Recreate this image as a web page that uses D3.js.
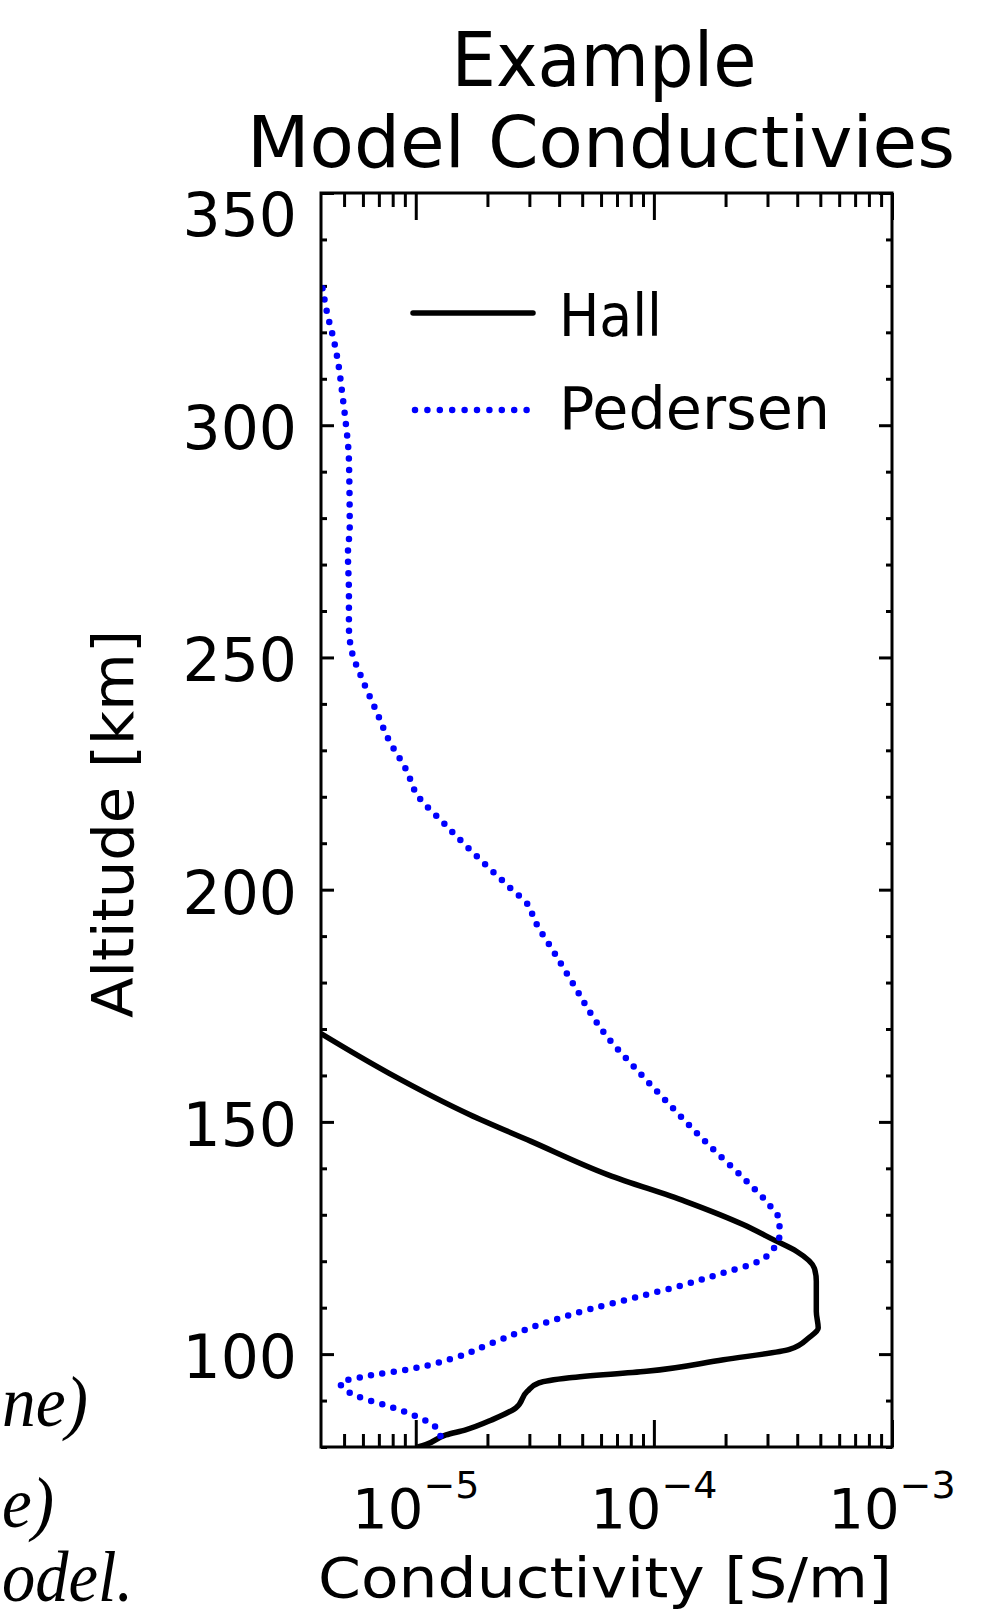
<!DOCTYPE html>
<meta charset="utf-8">
<title>Example Model Conductivies</title>
<style>
body {
  margin: 0;
  background: #fff;
}
svg text {
  font-family: "DejaVu Sans", sans-serif;
  fill: #000;
}
.note {
  font-family: "Liberation Serif", serif;
  font-style: italic;
}
</style>
<svg width="995" height="1620"></svg>
<script src="https://d3js.org/d3.v7.min.js"></script>
<script>

// Hall conductivity profile (altitude km, conductivity S/m)
var hallAltitude = [169, 160.5, 151.6, 145.8, 138.6, 132.9, 127.9, 124.6, 122.1, 118.5, 115.7, 109.2, 105.6, 103.5, 101, 98.8, 96.3, 94.9, 93.8, 92, 88.4, 85.9, 83.7, 82.6, 80.5, 80];
var hallConductivity = [4.0e-6, 7.7e-6, 1.68e-5, 3.05e-5, 6.43e-5, 1.355e-4, 2.37e-4, 3.19e-4, 3.98e-4, 4.72e-4, 4.81e-4, 4.81e-4, 4.9e-4, 4.47e-4, 3.71e-4, 1.96e-4, 9.3e-5, 4.42e-5, 3.29e-5, 2.94e-5, 2.63e-5, 2.10e-5, 1.62e-5, 1.34e-5, 1.1e-5, 1.02e-5];

// Pedersen conductivity profile
var pedersenAltitude = [329.5, 324, 318.3, 312.6, 306.9, 301, 292.5, 278, 272.4, 263.8, 256.6, 250.9, 246.2, 238, 232.9, 225.4, 220.4, 214.3, 206.4, 200.3, 196.5, 193.8, 186.6, 179.5, 172.3, 168.3, 161.6, 153.7, 145.1, 137.2, 132.9, 128.6, 125.7, 122.8, 119.6, 117.5, 115, 112.4, 109.6, 106.3, 102.4, 99.2, 97, 95.2, 93.8, 90.9, 88.8, 87, 85.5, 82.6, 80];
var pedersenConductivity = [4.06e-6, 4.25e-6, 4.53e-6, 4.75e-6, 4.91e-6, 5.07e-6, 5.24e-6, 5.28e-6, 5.19e-6, 5.24e-6, 5.24e-6, 5.41e-6, 5.86e-6, 6.89e-6, 7.59e-6, 9.2e-6, 1.014e-5, 1.312e-5, 1.871e-5, 2.50e-5, 2.985e-5, 3.13e-5, 3.80e-5, 4.61e-5, 5.60e-5, 6.37e-5, 8.34e-5, 1.164e-4, 1.694e-4, 2.455e-4, 2.96e-4, 3.37e-4, 3.37e-4, 3.19e-4, 2.65e-4, 1.96e-4, 1.355e-4, 8.67e-5, 5.33e-5, 3.29e-5, 2.10e-5, 1.45e-5, 9.98e-6, 6.14e-6, 4.82e-6, 5.70e-6, 7.69e-6, 9.62e-6, 1.117e-5, 1.27e-5, 1.23e-5];

var altitudeTicks = [100, 150, 200, 250, 300, 350];
var altitudeMinorTicks = [80, 90, 110, 120, 130, 140, 160, 170, 180, 190, 210, 220, 230, 240, 260, 270, 280, 290, 310, 320, 330, 340];
var conductivityTicks = [1e-5, 1e-4, 1e-3];
var conductivityExponents = ["\u22125", "\u22124", "\u22123"];
var conductivityMinorTicks = [5e-6, 6e-6, 7e-6, 8e-6, 9e-6, 2e-5, 3e-5, 4e-5, 5e-5, 6e-5, 7e-5, 8e-5, 9e-5, 2e-4, 3e-4, 4e-4, 5e-4, 6e-4, 7e-4, 8e-4, 9e-4];

var titleLines = ["Example", "Model Conductivies"];
var legendLabels = ["Hall", "Pedersen"];
var noteFragments = ["ne)", "e)", "odel."];

var svg = d3.select("svg"),
    plotLeft = 321, plotRight = 892, plotTop = 193, plotBottom = 1447;

var x = d3.scaleLog().domain([4e-6, 1e-3]).range([plotLeft, plotRight]);
var y = d3.scaleLinear().domain([80, 350]).range([plotBottom, plotTop]);

svg.append("defs").append("clipPath").attr("id", "plot")
  .append("rect")
    .attr("x", plotLeft).attr("y", plotTop)
    .attr("width", plotRight - plotLeft).attr("height", plotBottom - plotTop);

/* ticks, all pointing inward */
function drawTicks(axis, values, size, transform) {
  var g = svg.append("g")
      .attr("transform", transform)
      .call(axis.tickValues(values).tickSize(size).tickFormat(""));
  g.select(".domain").remove();
  g.selectAll("text").remove();
  g.selectAll("line").attr("stroke", "#000").attr("stroke-width", 3);
}
drawTicks(d3.axisBottom(x), conductivityTicks, 27, "translate(0," + plotTop + ")");
drawTicks(d3.axisBottom(x), conductivityMinorTicks, 14, "translate(0," + plotTop + ")");
drawTicks(d3.axisTop(x), conductivityTicks, 27, "translate(0," + plotBottom + ")");
drawTicks(d3.axisTop(x), conductivityMinorTicks, 13, "translate(0," + plotBottom + ")");
drawTicks(d3.axisRight(y), altitudeTicks, 13, "translate(" + plotLeft + ",0)");
drawTicks(d3.axisRight(y), altitudeMinorTicks, 6, "translate(" + plotLeft + ",0)");
drawTicks(d3.axisLeft(y), altitudeTicks, 13, "translate(" + plotRight + ",0)");
drawTicks(d3.axisLeft(y), altitudeMinorTicks, 6, "translate(" + plotRight + ",0)");

/* curves */
var plot = svg.append("g").attr("clip-path", "url(#plot)");

var hall = hallAltitude.map(function(a, i) { return [hallConductivity[i], a]; });
var pedersen = pedersenAltitude.map(function(a, i) { return [pedersenConductivity[i], a]; });

var line = d3.line()
    .x(function(d) { return x(d[0]); })
    .y(function(d) { return y(d[1]); })
    .curve(d3.curveMonotoneY);

plot.append("path")
    .attr("d", line(hall))
    .attr("fill", "none")
    .attr("stroke", "#000")
    .attr("stroke-width", 5.5)
    .attr("stroke-linejoin", "round");

plot.append("path")
    .attr("d", line(pedersen))
    .attr("fill", "none")
    .attr("stroke", "#0000ff")
    .attr("stroke-width", 6.5)
    .attr("stroke-linecap", "round")
    .attr("stroke-dasharray", "0 11.5");

/* frame */
svg.append("rect")
    .attr("x", plotLeft).attr("y", plotTop)
    .attr("width", plotRight - plotLeft).attr("height", plotBottom - plotTop)
    .attr("fill", "none")
    .attr("stroke", "#000")
    .attr("stroke-width", 3);

/* tick labels */
svg.append("g").selectAll("text")
  .data(altitudeTicks)
  .join("text")
    .attr("x", plotLeft - 24)
    .attr("y", function(d) { return Math.max(y(d) + 24, plotTop + 43); })
    .attr("text-anchor", "end")
    .style("font-size", "60px")
    .text(function(d) { return d; });

var xLabels = svg.append("g").selectAll("text")
  .data(conductivityTicks)
  .join("text")
    .attr("x", function(d) { return x(d); })
    .attr("y", 1528)
    .attr("text-anchor", "middle")
    .style("font-size", "56px");
xLabels.append("tspan").text("10");
xLabels.append("tspan")
    .attr("dy", -30)
    .style("font-size", "38px")
    .text(function(d, i) { return conductivityExponents[i]; });

/* titles */
svg.append("text")
    .attr("x", 604).attr("y", 86)
    .attr("text-anchor", "middle")
    .attr("textLength", 305).attr("lengthAdjust", "spacingAndGlyphs")
    .style("font-size", "74px")
    .text(titleLines[0]);
svg.append("text")
    .attr("x", 601).attr("y", 167)
    .attr("text-anchor", "middle")
    .attr("textLength", 708).attr("lengthAdjust", "spacingAndGlyphs")
    .style("font-size", "72px")
    .text(titleLines[1]);

svg.append("text")
    .attr("x", 605).attr("y", 1597)
    .attr("text-anchor", "middle")
    .attr("textLength", 574).attr("lengthAdjust", "spacingAndGlyphs")
    .style("font-size", "56px")
    .text("Conductivity [S/m]");

svg.append("text")
    .attr("transform", "translate(133,824) rotate(-90)")
    .attr("text-anchor", "middle")
    .attr("textLength", 388).attr("lengthAdjust", "spacingAndGlyphs")
    .style("font-size", "57px")
    .text("Altitude [km]");

/* legend */
var legend = svg.append("g");
legend.append("line")
    .attr("x1", 413).attr("x2", 533).attr("y1", 313).attr("y2", 313)
    .attr("stroke", "#000").attr("stroke-width", 5.5).attr("stroke-linecap", "round");
legend.append("line")
    .attr("x1", 415).attr("x2", 527).attr("y1", 410).attr("y2", 410)
    .attr("stroke", "#0000ff").attr("stroke-width", 6.5)
    .attr("stroke-linecap", "round").attr("stroke-dasharray", "0 12.4");
legend.selectAll("text")
  .data(legendLabels)
  .join("text")
    .attr("x", 559)
    .attr("y", function(d, i) { return [336, 429][i]; })
    .attr("textLength", function(d, i) { return [103, 271][i]; })
    .attr("lengthAdjust", "spacingAndGlyphs")
    .style("font-size", "58px")
    .text(function(d) { return d; });

/* caption fragments at the left edge */
svg.append("g").selectAll("text")
  .data(noteFragments)
  .join("text")
    .attr("class", "note")
    .attr("x", 2)
    .attr("y", function(d, i) { return [1426, 1527, 1601][i]; })
    .attr("textLength", function(d, i) { return [86, 52, 131][i]; })
    .attr("lengthAdjust", "spacingAndGlyphs")
    .style("font-size", "72px")
    .text(function(d) { return d; });

</script>
